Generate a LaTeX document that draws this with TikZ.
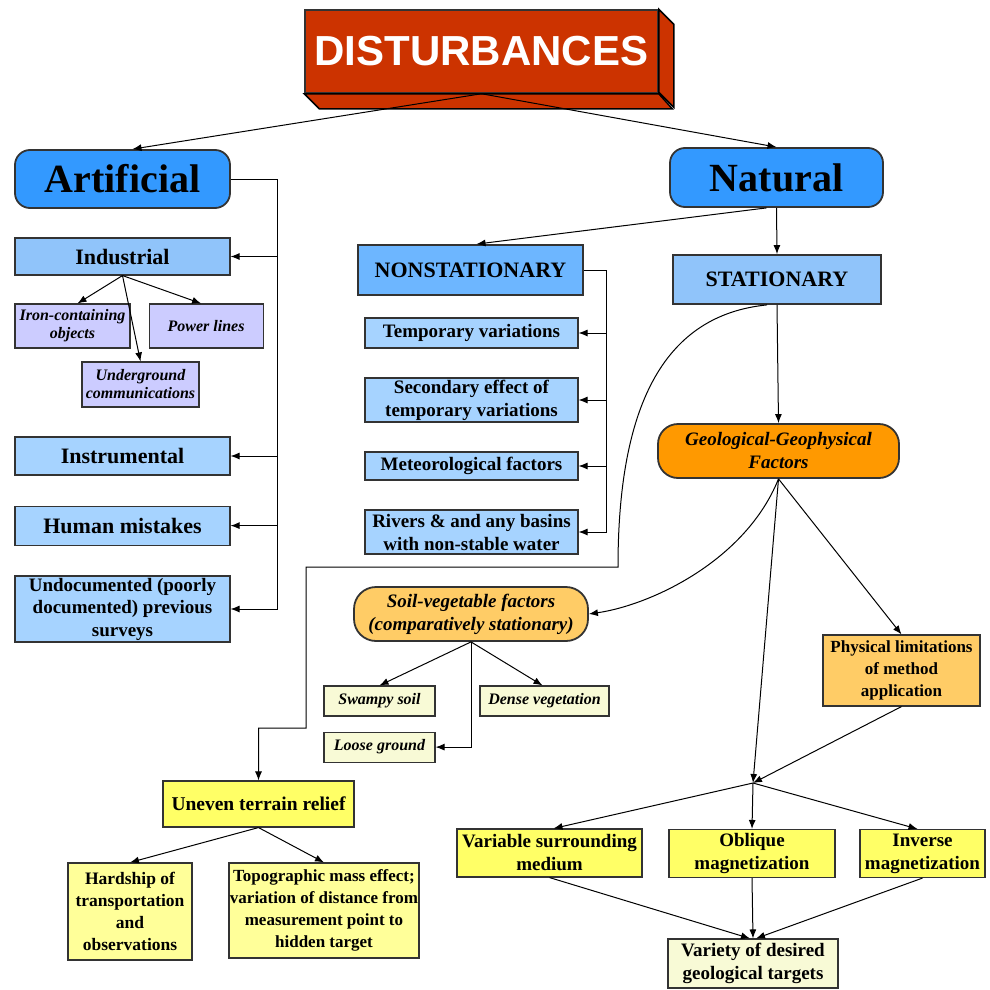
\documentclass[tikz,border=0pt]{standalone}
\usepackage{fontspec}
\setmainfont{Liberation Serif}
\newfontfamily\headfont{Liberation Sans}
\usepackage{tikz}
\usetikzlibrary{arrows.meta,positioning}
\usepackage{xcolor}
\definecolor{distred}{HTML}{CC3300}
\definecolor{mainblue}{HTML}{3399FF}
\definecolor{midblue}{HTML}{6DB6FF}
\definecolor{catblue}{HTML}{90C4FA}
\definecolor{paleblue}{HTML}{A6D3FF}
\definecolor{lilac}{HTML}{CCCCFF}
\definecolor{geoorange}{HTML}{FF9900}
\definecolor{softorange}{HTML}{FFCC66}
\definecolor{brightyellow}{HTML}{FFFF66}
\definecolor{paleyellow}{HTML}{FFFF99}
\definecolor{creamyellow}{HTML}{F8FAD6}
\definecolor{edgegray}{HTML}{333333}

\begin{document}
\begin{tikzpicture}[
  x=1pt, y=-1pt,
  box/.style={draw=edgegray, line width=1.1pt, align=center, inner sep=0.5pt},
  group/.style={box, fill=mainblue, rounded corners=15pt, line width=1.8pt, minimum height=58pt, font=\fontsize{40}{44}\selectfont\bfseries},
  phase/.style={box, line width=1.8pt, minimum height=50pt, font=\fontsize{22}{26}\selectfont\bfseries},
  leftbox/.style={box, fill=paleblue, minimum width=215pt, font=\fontsize{22}{26}\selectfont\bfseries},
  midbox/.style={box, fill=paleblue, minimum width=213pt, font=\fontsize{19}{23}\selectfont\bfseries},
  smallbox/.style={box, fill=lilac, minimum height=44pt, font=\fontsize{16}{18}\selectfont\bfseries\itshape},
  factor/.style={box, line width=1.8pt, minimum height=54pt, font=\fontsize{19}{23}\selectfont\bfseries\itshape},
  soilbox/.style={box, fill=creamyellow, minimum height=30pt, font=\fontsize{16}{18}\selectfont\bfseries\itshape},
  effect/.style={box, fill=brightyellow, minimum height=48pt, font=\fontsize{19}{23}\selectfont\bfseries},
  arrow/.style={-{Latex[length=9pt,width=7pt]}, line width=1pt},
  wire/.style={line width=1pt}
]
\useasboundingbox (0,0) rectangle (990,990);

% title block
\node[box, fill=distred, text=white, line width=1.5pt, minimum width=353pt, minimum height=83pt,
  font=\headfont\fontsize{42}{46}\selectfont\bfseries] (dist) at (481.5,51.5) {DISTURBANCES};
\filldraw[fill=distred, draw=black, line width=1.5pt] (dist.north east) -- ++(15,15) -- ++(0,83) -- ++(-15,-15) -- cycle;
\filldraw[fill=distred, draw=black, line width=1.5pt] (dist.south west) -- ++(15,15) -- ++(353,0) -- (dist.south east) -- cycle;

% artificial side
\node[group, minimum width=215pt] (art) at (122.5,179) {Artificial};
\node[leftbox, fill=catblue, minimum height=37pt] (ind) at (122.5,256.5) {Industrial};
\node[smallbox, minimum width=115pt] (iron) at (72.5,326) {Iron-containing\\objects};
\node[smallbox, minimum width=114pt, right=18pt of iron] (power) {Power lines};
\node[smallbox, minimum width=117pt, minimum height=45pt] (under) at (140.5,384.5) {Underground\\communications};
\node[leftbox, minimum height=38pt] (instr) at (122.5,456) {Instrumental};
\node[leftbox, minimum height=39pt, below=30pt of instr] (human) {Human mistakes};
\node[leftbox, minimum height=66pt, font=\fontsize{19}{22.5}\selectfont\bfseries] (undoc) at (122.5,609) {Undocumented (poorly\\documented) previous\\surveys};

% natural side
\node[group, minimum width=213pt, minimum height=59pt] (nat) at (776.5,177.5) {Natural};
\node[phase, fill=midblue, minimum width=225pt] (nonst) at (470.5,270) {NONSTATIONARY};
\node[midbox, minimum height=30pt] (temp) at (471.5,333) {Temporary variations};
\node[midbox, minimum height=44pt] (second) at (471.5,400) {Secondary effect of\\temporary variations};
\node[midbox, minimum height=28pt] (meteo) at (471.5,466) {Meteorological factors};
\node[midbox, minimum height=44pt] (rivers) at (471.5,532) {Rivers \& and any basins\\with non-stable water};
\node[phase, fill=catblue, minimum width=208pt, minimum height=49pt] (stat) at (777,279.5) {STATIONARY};
\node[factor, fill=geoorange, rounded corners=20pt, minimum width=241pt] (geo) at (778.5,451) {Geological-Geophysical\\Factors};
\node[factor, fill=softorange, rounded corners=22pt, minimum width=234pt] (soil) at (471,614) {Soil-vegetable factors\\(comparatively stationary)};
\node[soilbox, minimum width=111pt] (swamp) at (379.5,701) {Swampy soil};
\node[soilbox, minimum width=129pt] (dense) at (544.5,701) {Dense vegetation};
\node[soilbox, minimum width=111pt, below=15pt of swamp] (loose) {Loose ground};
\node[box, fill=softorange, minimum width=157pt, minimum height=71pt, font=\fontsize{17}{22}\selectfont\bfseries] (phys) at (901.5,670.5) {Physical limitations\\of method\\application};

% terrain
\node[box, fill=brightyellow, minimum width=191pt, minimum height=46pt, font=\fontsize{19.5}{23}\selectfont\bfseries] (uneven) at (258.5,804) {Uneven terrain relief};
\node[box, fill=paleyellow, minimum width=124pt, minimum height=97pt, font=\fontsize{17.5}{22}\selectfont\bfseries] (hard) at (130,911.5) {Hardship of\\transportation\\and\\observations};
\node[box, fill=paleyellow, minimum width=190pt, minimum height=95pt, font=\fontsize{17}{22}\selectfont\bfseries] (topo) at (324,910.5) {Topographic mass effect;\\variation of distance from\\measurement point to\\hidden target};

% magnetization row
\coordinate (mrg) at (753,783);
\node[effect, minimum width=185pt] (varm) at (549.5,853) {Variable surrounding\\medium};
\node[effect, minimum width=166pt] (obl) at (752,853.5) {Oblique\\magnetization};
\node[effect, minimum width=125pt] (inv) at (922.5,853.5) {Inverse\\magnetization};
\node[effect, fill=creamyellow, minimum width=170pt, minimum height=49pt] (variety) at (753,963.5) {Variety of desired\\geological targets};

\draw[arrow] (dist.south) -- ([xshift=10pt]art.north);
\draw[arrow] (dist.south) -- (nat.north);

\coordinate (abus) at (277,179);
\draw[wire] (art.east) -- (abus);
\draw[arrow] (abus) |- (undoc.east);
\draw[arrow] (abus |- ind.east) -- (ind.east);
\draw[arrow] (abus |- instr.east) -- (instr.east);
\draw[arrow] (abus |- human.east) -- (human.east);
\draw[arrow] (ind.south) -- ([xshift=5pt]iron.north);
\draw[arrow] (ind.south) -- ([xshift=-5pt]power.north);
\draw[arrow] (ind.south) -- (under.north);

\draw[arrow] ([xshift=-10pt]nat.south) -- ([xshift=6pt]nonst.north);
\draw[arrow] (nat.south) -- (stat.north);
\coordinate (nbus) at (606,270);
\draw[wire] (nonst.east) -- (nbus);
\draw[arrow] (nbus) |- (rivers.east);
\draw[arrow] (nbus |- temp.east) -- (temp.east);
\draw[arrow] (nbus |- second.east) -- (second.east);
\draw[arrow] (nbus |- meteo.east) -- (meteo.east);

\draw[arrow] (stat.south) -- (geo.north);
\coordinate (bendA) at (618,567);
\coordinate (bendB) at (306,728);
\draw[arrow] ([xshift=-10pt]stat.south) .. controls +(-100,10) and +(0,-167) .. (bendA) -| (bendB) -| (uneven.north);

\draw[arrow] (geo.south) .. controls +(-33,82) and +(62,-9) .. (soil.east);
\draw[arrow] (geo.south) -- (phys.north);
\draw[arrow] (geo.south) -- (mrg);
\draw[arrow] (phys.south) -- (mrg);
\draw[arrow] (mrg) -- ([xshift=4pt]varm.north);
\draw[arrow] (mrg) -- (obl.north);
\draw[arrow] (mrg) -- ([xshift=-5pt]inv.north);
\draw[arrow] (varm.south) -- ([xshift=-3pt]variety.north);
\draw[arrow] (obl.south) -- (variety.north);
\draw[arrow] (inv.south) -- ([xshift=3pt]variety.north);

\draw[arrow] (soil.south) -- (swamp.north);
\draw[arrow] (soil.south) -- ([xshift=-2pt]dense.north);
\draw[arrow] (soil.south) |- (loose.east);

\draw[arrow] (uneven.south) -- (hard.north);
\draw[arrow] (uneven.south) -- (topo.north);
\end{tikzpicture}
\end{document}
